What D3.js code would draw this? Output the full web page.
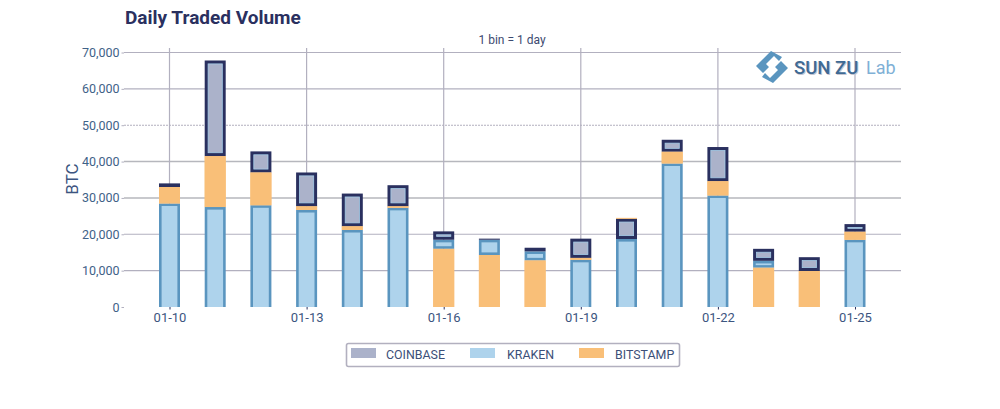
<!DOCTYPE html>
<html><head><meta charset="utf-8">
<script src="https://cdn.jsdelivr.net/npm/d3@7"></script>
<style>html,body{margin:0;padding:0;background:#fff}svg{display:block}text{font-family:Roboto,sans-serif}</style>
</head><body><svg id="c" width="1000" height="409"></svg>
<script>
const days=["01-10","01-11","01-12","01-13","01-14","01-15","01-16","01-17","01-18","01-19","01-20","01-21","01-22","01-23","01-24","01-25"];
const tickDays=["01-10","01-13","01-16","01-19","01-22","01-25"];
const yTicks=[0,10000,20000,30000,40000,50000,60000,70000];
const kraken=[28500,27500,28000,26700,21200,27300,2500,4200,2500,13000,18700,39500,30700,1900,0,18500];
const bitstamp=[4500,14000,9000,1000,1000,400,16000,14300,12800,500,200,3200,3900,10800,9900,2200];
const coinbase=[1000,26300,5800,9300,9000,5800,2300,300,1000,5300,5600,3300,9400,3300,3800,2100];
const order=["KBC","KBC","KBC","KBC","KBC","KBC","BKC","BKC","BKC","KBC","KCB","KBC","KBC","BKC","BKC","KBC"];
const names={C:"COINBASE",K:"KRAKEN",B:"BITSTAMP"};
const legendOrder=["C","K","B"];
const svg=d3.select("#c");
const x=d3.scalePoint().domain(days).range([169.5,855]);
const y=d3.scaleLinear().domain([0,70000]).range([307,52.5]);
const grid="#b2b0bf",ink="#2a305f",tick="#3f6288";
const fills={C:"#abb2ca",K:"#aed3ec",B:"#f9bf78"},edges={C:"#2a305f",K:"#5a95bf",B:"#f9bf78"};
const rims={C:"#a6cde8",K:"none",B:"none"};
const border={C:3.4,K:2.6,B:0};
// grid
const gy=svg.append("g");
gy.selectAll("line").data(yTicks.filter(d=>d>0)).join("line")
 .attr("x1",124).attr("x2",901).attr("y1",d=>y(d)).attr("y2",d=>y(d))
 .attr("stroke",d=>d===30000||d===40000?"#b6b7bd":grid).attr("stroke-width",d=>d===30000||d===40000?1.6:1.1)
 .attr("stroke-dasharray",d=>d===50000?"2 1":null);
svg.append("g").selectAll("line").data(tickDays).join("line")
 .attr("x1",d=>x(d)).attr("x2",d=>x(d)).attr("y1",48).attr("y2",307).attr("stroke",grid).attr("stroke-width",1.2);
// axes
const ay=svg.append("g").attr("transform","translate(124,0)").call(d3.axisLeft(y).tickValues(yTicks).tickFormat(d3.format(",")).tickSize(2.5).tickPadding(2));
ay.select(".domain").remove();
ay.selectAll("text").attr("font-size",12.5).attr("fill",tick);
ay.selectAll("line").attr("stroke",grid);
const ax=svg.append("g").attr("transform","translate(0,307)").call(d3.axisBottom(x).tickValues(tickDays).tickSize(2.5).tickPadding(3));
ax.select(".domain").remove();
ax.selectAll("text").attr("font-size",13).attr("fill","#3c5580");
ax.selectAll("line").attr("stroke",ink);
// bars
const bw=21;
days.forEach((day,i)=>{
  const row={K:kraken[i],B:bitstamp[i],C:coinbase[i]};
  const keys=order[i].split("");
  const segs=d3.stack().keys(keys)([row]).map(s=>({k:s.key,y0:s[0][0],y1:s[0][1]}));
  const g=svg.append("g");
  g.selectAll("rect.o").data(segs).join("rect").attr("class","o")
   .attr("x",x(day)-bw/2).attr("width",bw)
   .attr("y",d=>y(d.y1)).attr("height",d=>y(d.y0)-y(d.y1))
   .attr("fill",d=>edges[d.k]);
  g.selectAll("rect.i").data(segs.filter(d=>y(d.y0)-y(d.y1)>border[d.k]*(d.y0===0?1:2))).join("rect").attr("class","i")
   .attr("x",d=>x(day)-bw/2+border[d.k]).attr("width",d=>bw-2*border[d.k])
   .attr("y",d=>y(d.y1)+border[d.k])
   .attr("height",d=>y(d.y0)-y(d.y1)-border[d.k]*(d.y0===0?1:2))
   .attr("fill",d=>fills[d.k])
   .attr("stroke",d=>rims[d.k]).attr("stroke-width",.8);
});
// labels
svg.append("text").attr("x",125).attr("y",24).attr("font-size",19).attr("font-weight",700).attr("fill",ink).text("Daily Traded Volume");
svg.append("text").attr("x",512).attr("y",43.5).attr("text-anchor","middle").attr("font-size",12).attr("fill","#3c4a70").text("1 bin = 1 day");
svg.append("text").attr("transform","translate(78,179) rotate(-90)").attr("text-anchor","middle").attr("font-size",17).attr("fill","#3c5580").text("BTC");
// legend
const lg=svg.append("g");
lg.append("rect").attr("x",346.5).attr("y",343.5).attr("width",333).attr("height",23).attr("rx",2).attr("fill","#fff").attr("stroke",grid).attr("stroke-width",1.6);
const swX=d3.scaleOrdinal().domain(legendOrder).range([351,470,579]);
const txX=d3.scaleOrdinal().domain(legendOrder).range([386,507,615]);
lg.selectAll("rect.sw").data(legendOrder).join("rect").attr("class","sw")
 .attr("x",d=>swX(d)).attr("y",348).attr("width",25).attr("height",10)
 .attr("fill",d=>fills[d]);
lg.selectAll("text").data(legendOrder).join("text")
 .attr("x",d=>txX(d)).attr("y",358.5).attr("font-size",12.4).attr("fill","#3c4f78").text(d=>names[d]);
// logo
const lo=svg.append("g").attr("transform","translate(772,67)");
lo.append("path").attr("d","M-1,-16 L-16,-1 L-9,6 L-3,0 L-6,-3 L2,-11 L7,-6 L10,-10 Z M1,16 L16,1 L9,-6 L3,0 L6,3 L-2,11 L-7,6 L-10,10 Z").attr("fill","#5a95bf");
svg.append("text").attr("x",795).attr("y",75).attr("font-size",18.5).attr("font-weight",500).attr("fill","#c4c6d2").text("SUN ZU");
svg.append("text").attr("x",794).attr("y",74).attr("font-size",18.5).attr("font-weight",500).attr("fill","#3f6a94").text("SUN ZU");
svg.append("text").attr("x",866).attr("y",74).attr("font-size",18).attr("fill","#7fb0d6").text("Lab");
</script></body></html>
